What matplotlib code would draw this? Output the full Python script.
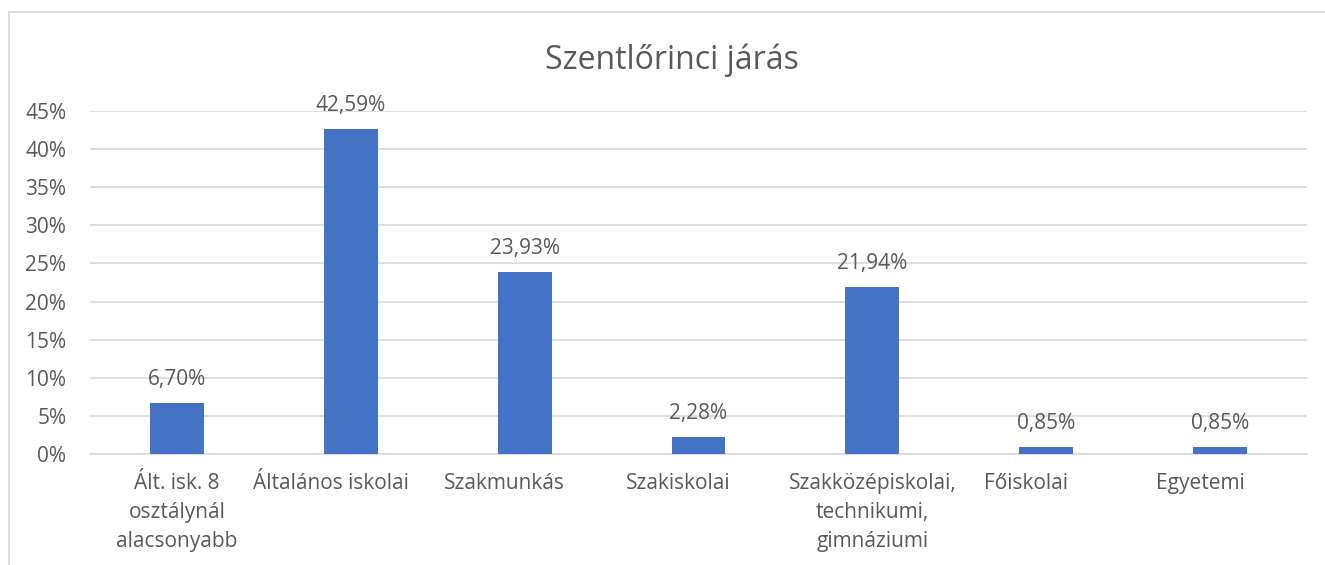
import matplotlib.pyplot as plt
import matplotlib.transforms as mtransforms
from matplotlib.patches import Rectangle

# adatok
kategoriak = ['Ált. isk. 8\nosztálynál\nalacsonyabb', 'Általános iskolai', 'Szakmunkás',
              'Szakiskolai', 'Szakközépiskolai,\ntechnikumi,\ngimnáziumi', 'Főiskolai', 'Egyetemi']
ertekek = [6.70, 42.59, 23.93, 2.28, 21.94, 0.85, 0.85]
cimkek = ['6,70%', '42,59%', '23,93%', '2,28%', '21,94%', '0,85%', '0,85%']
y_ticks = [0, 5, 10, 15, 20, 25, 30, 35, 40, 45]

plt.rcParams['font.family'] = ['Open Sans', 'DejaVu Sans']
szurke = '#595959'
meret = 15

fig = plt.figure(figsize=(13.25, 5.65), dpi=100)
ax = fig.add_axes([0.0679, 0.1965, 0.9185, 0.607])

# keret a diagram körül
fig.patches.append(Rectangle((9 / 1325, -0.1), 1.2, 1 - 12 / 565 + 0.1, transform=fig.transFigure,
                             fill=False, edgecolor='#D9D9D9', linewidth=1.3))

x = range(len(kategoriak))
ax.bar(x, [v / 100 for v in ertekek], width=0.31, color='#4472C4', zorder=3)
for i, v in enumerate(ertekek):
    ax.annotate(cimkek[i], (i, v / 100), xytext=(0, 13), textcoords='offset points',
                ha='center', va='baseline', fontsize=meret, color=szurke)

ax.set_xlim(-0.5, len(kategoriak) - 0.5)
ax.set_ylim(0, 0.45)
ax.set_yticks([t / 100 for t in y_ticks])
ax.set_yticklabels([f'{t}%' for t in y_ticks])
ax.set_xticks(list(x))
ax.set_xticklabels(kategoriak, linespacing=1.5)
ax.tick_params(axis='both', length=0, labelsize=meret, labelcolor=szurke)
ax.tick_params(axis='x', pad=14)
ax.tick_params(axis='y', pad=17)

# az egysoros feliratok (mint az Excelben) kicsit balra tolódnak
eltolas = mtransforms.ScaledTranslation(-0.2, 0, fig.dpi_scale_trans)
for lbl in ax.get_xticklabels():
    if '\n' not in lbl.get_text():
        lbl.set_transform(lbl.get_transform() + eltolas)

ax.grid(axis='y', color='#D9D9D9', linewidth=1.2, zorder=0)
for s in ['top', 'right', 'left']:
    ax.spines[s].set_visible(False)
ax.spines['bottom'].set_color('#D9D9D9')
ax.spines['bottom'].set_linewidth(1.2)

fig.text(672 / 1325, 1 - 60 / 565, 'Szentlőrinci járás', ha='center', va='center',
         fontsize=23, color=szurke)

fig.savefig('out.png', dpi=100)
